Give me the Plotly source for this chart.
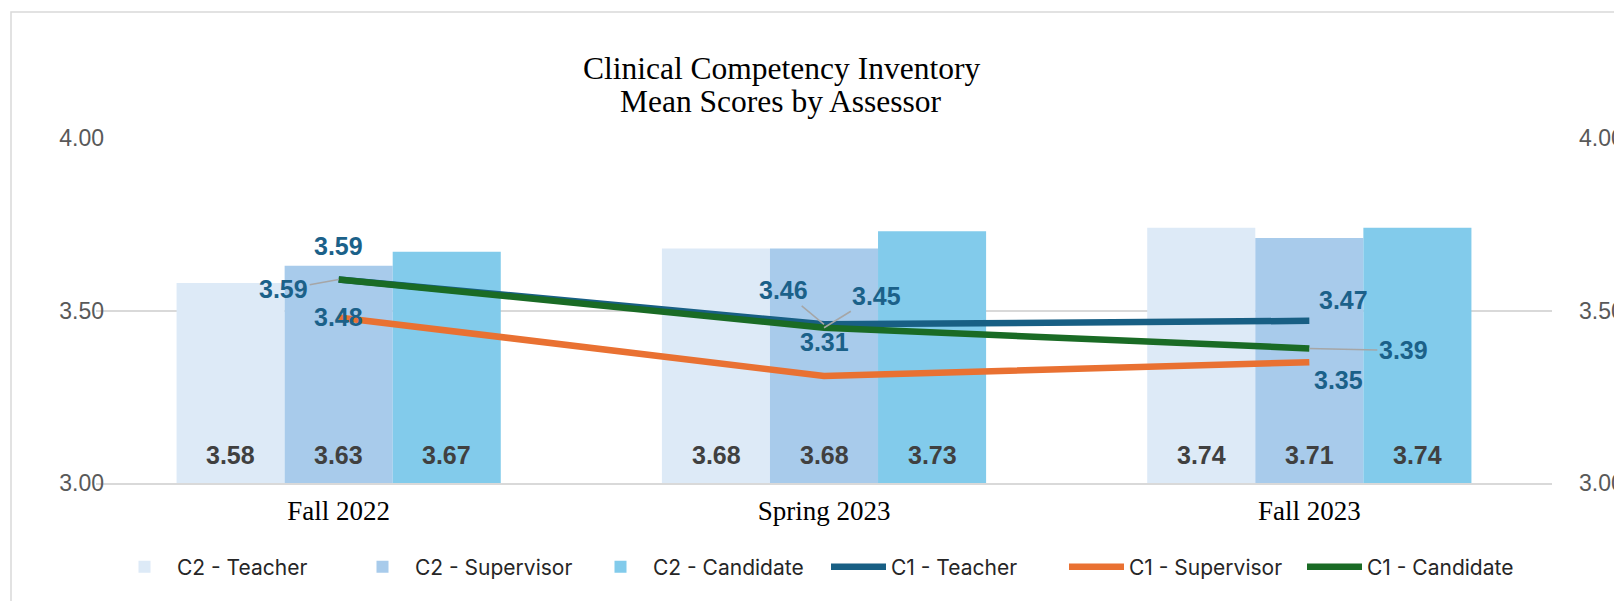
import plotly.graph_objects as go

# ---- data ----
categories = ["Fall 2022", "Spring 2023", "Fall 2023"]
c2_teacher = [3.58, 3.68, 3.74]
c2_supervisor = [3.63, 3.68, 3.71]
c2_candidate = [3.67, 3.73, 3.74]
c1_teacher = [3.59, 3.46, 3.47]
c1_supervisor = [3.48, 3.31, 3.35]
c1_candidate = [3.59, 3.45, 3.39]
y_ticks = [3.0, 3.5, 4.0]
title_lines = ["Clinical Competency Inventory", "Mean Scores by Assessor"]

# ---- style ----
OFF = 8  # default page body margin
W, H = 1622 - OFF, 601 - OFF
L, T = 96 - OFF, 138 - OFF
plot_w, plot_h = 1456, 345
R = W - L - plot_w
B = H - T - plot_h
SANS = "Liberation Sans, Arial, sans-serif"
SERIF = "Liberation Serif, Times New Roman, serif"
GRID = "#d9d9d9"
LABEL_BLUE = "#1b6189"


def px_x(page_x):
    return (page_x - OFF - L) / plot_w


def px_y(page_y):
    return (T + plot_h - (page_y - OFF)) / plot_h


bar_series = [
    ("C2 - Teacher", c2_teacher, "#ddeaf7"),
    ("C2 - Supervisor", c2_supervisor, "#a8cbeb"),
    ("C2 - Candidate", c2_candidate, "#82cbeb"),
]
line_series = [
    ("C1 - Teacher", c1_teacher, "#185f84"),
    ("C1 - Supervisor", c1_supervisor, "#e97132"),
    ("C1 - Candidate", c1_candidate, "#1a6b25"),
]
# label offsets (px) per line series and category: (dx, dy, leader)
label_offsets = {
    "C1 - Teacher": [(0, -33, False), (-41, -34, True), (34, -21, False)],
    "C1 - Supervisor": [(0, 0, False), (0, -34, False), (29, 18, False)],
    "C1 - Candidate": [(-55, 10, True), (52, -32, True), (94, 2, True)],
}
bar_px_width = 108
bar_shifts = [-bar_px_width, 0, bar_px_width]

fig = go.Figure()
for name, vals, col in bar_series:
    fig.add_trace(go.Bar(x=categories, y=vals, name=name, marker=dict(color=col, line=dict(width=0)),
                         yaxis="y"))
for name, vals, col in line_series:
    fig.add_trace(go.Scatter(x=categories, y=vals, name=name, mode="lines",
                             line=dict(color=col, width=6.5), yaxis="y2"))

annotations = []
# title lines
for txt, page_y in zip(title_lines, [68, 102]):
    annotations.append(dict(x=px_x(781), y=px_y(page_y), xref="paper", yref="paper", text=txt,
                            showarrow=False, xanchor="center", yanchor="middle",
                            font=dict(family=SERIF, size=31.5, color="#000000")))
# bar labels at inside base
for (name, vals, col), dx in zip(bar_series, bar_shifts):
    for cat, v in zip(categories, vals):
        annotations.append(dict(x=cat, y=y_ticks[0], xref="x", yref="y", text=f"{v:.2f}",
                                showarrow=False, xshift=dx, yshift=28, yanchor="middle",
                                font=dict(family=SANS, size=25, color="#404040", weight="bold")))
# line labels
for name, vals, col in line_series:
    for cat, v, (dx, dy, leader) in zip(categories, vals, label_offsets[name]):
        if leader:
            annotations.append(dict(x=cat, y=v, xref="x", yref="y2", text=f"{v:.2f}",
                                    showarrow=True, ax=dx, ay=dy, axref="pixel", ayref="pixel",
                                    arrowhead=0, arrowwidth=1.5, arrowcolor="#a6a6a6", standoff=0,
                                    font=dict(family=SANS, size=25, color=LABEL_BLUE, weight="bold")))
        else:
            annotations.append(dict(x=cat, y=v, xref="x", yref="y2", text=f"{v:.2f}",
                                    showarrow=False, xshift=dx, yshift=-dy, yanchor="middle",
                                    font=dict(family=SANS, size=25, color=LABEL_BLUE, weight="bold")))

fig.update_layout(
    width=W, height=H,
    margin=dict(l=L, r=R, t=T, b=B, autoexpand=False),
    paper_bgcolor="white", plot_bgcolor="white",
    barmode="group", bargap=0.332, bargroupgap=0,
    xaxis=dict(type="category", showgrid=False, showline=True, linecolor=GRID, linewidth=1.5,
               ticks="", tickfont=dict(family=SERIF, size=27, color="#000000"),
               ticklabelstandoff=3),
    yaxis=dict(range=[3, 4], tickvals=y_ticks, tickformat=".2f", showgrid=True, gridcolor=GRID,
               gridwidth=1.5, zeroline=False, showline=False, ticks="", ticklen=0,
               tickfont=dict(family=SANS, size=23, color="#595959"), ticklabelstandoff=-9),
    yaxis2=dict(range=[3, 4], tickvals=y_ticks, tickformat=".2f", overlaying="y", side="right",
                showgrid=False, zeroline=False, showline=False, ticks="", ticklen=0,
                tickfont=dict(family=SANS, size=23, color="#595959"), ticklabelstandoff=26),
    legend=dict(orientation="h", x=px_x(826), xanchor="center", y=px_y(567),
                yanchor="middle", font=dict(family="Inter, Liberation Sans, sans-serif", size=21, color="#262626"),
                entrywidth=168, traceorder="normal", itemwidth=55),
    annotations=annotations,
    shapes=[dict(type="rect", xref="paper", yref="paper",
                 x0=px_x(11), x1=px_x(1660), y0=px_y(640), y1=px_y(12),
                 line=dict(color=GRID, width=1.5), fillcolor="rgba(0,0,0,0)", layer="below")],
    showlegend=True,
)

fig.write_html("out.html")
